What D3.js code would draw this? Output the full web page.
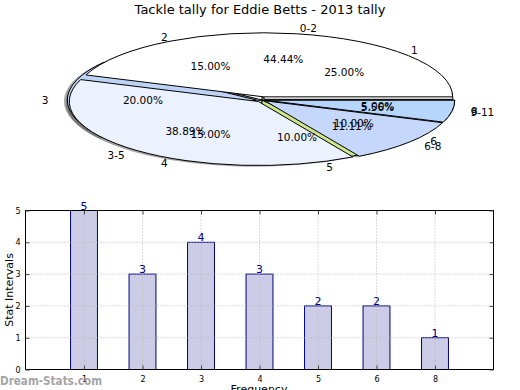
<!DOCTYPE html>
<html><head><meta charset="utf-8">
<script src="https://cdn.jsdelivr.net/npm/d3@7"></script>
<style>
html,body{margin:0;padding:0;background:#fff;}
svg{display:block;font-family:"DejaVu Sans",sans-serif;}
</style></head>
<body>
<svg id="chart" width="520" height="390"></svg>
<script>
// ---- data ----
const title = "Tackle tally for Eddie Betts - 2013 tally";
const innerCats = ["1","2","3","4","5","6","8"];
const innerVals = [5,3,4,3,2,2,1];
const outerCats = ["0-2","3-5","6-8","9-11"];
const outerVals = [8,7,2,1];
const barCats = ["1","2","3","4","5","6","8"];
const barVals = [5,3,4,3,2,2,1];
const yTicks = [0,1,2,3,4,5];
const xLabel = "Frequency";
const yLabel = "Stat Intervals";
const watermark = "Dream-Stats.com";

// ---- styles ----
const innerColors = ["#ffffff","#ffffff","#bed4f6","#ebf1fd","#cfe68a","#c5d7fb","#b7d6fe"];
const outerColors = ["#ffffff","#ebf1fd","#c5d7fb","#b7d6fe"];
const innerExplode = [0.015,0,0.03,0,0,0,0.02];
const outerExplode = [0.05,0.03,0.02,0.02];

const svg = d3.select("#chart");
svg.append("text").attr("x",260).attr("y",14).attr("text-anchor","middle")
  .attr("font-size",13).text(title);

// ---- pie ----
const cx = 262, cy = 100, rx = 189, ry = 64;
const pie = d3.pie().sort(null).value(d => d)
  .startAngle(Math.PI/2).endAngle(Math.PI/2 - 2*Math.PI);
const arc = d3.arc().innerRadius(0).outerRadius(1);

function layout(vals, explode){
  const arcs = pie(vals);
  const sum = d3.sum(vals);
  return arcs.map((a,i) => {
    const m = (a.startAngle + a.endAngle)/2;
    const e = explode[i];
    return {a, i, m, ox: e*rx*Math.sin(m), oy: -e*ry*Math.cos(m),
      pct: (vals[i]/sum*100).toFixed(2) + "%"};
  });
}
const inner = layout(innerVals, innerExplode);
const outer = layout(outerVals, outerExplode);

const gPie = svg.append("g");
const shadowOff = [-0.018*rx, 0.018*ry];
function drawShadow(L){
  gPie.append("g").selectAll("path").data(L).join("path")
    .attr("d", d => arc(d.a))
    .attr("transform", d => `translate(${cx+d.ox+shadowOff[0]},${cy+d.oy+shadowOff[1]}) scale(${rx},${ry})`)
    .attr("fill","#4d4d4d").attr("fill-opacity",0.5);
}
function drawWedges(L, colors){
  gPie.append("g").selectAll("path").data(L).join("path")
    .attr("d", d => arc(d.a))
    .attr("transform", d => `translate(${cx+d.ox},${cy+d.oy}) scale(${rx},${ry})`)
    .attr("fill", d => colors[d.i]).attr("stroke","#000")
    .attr("stroke-width",1).attr("vector-effect","non-scaling-stroke");
}
drawShadow(inner); drawShadow(outer);
drawWedges(inner, innerColors);
drawWedges(outer, outerColors);

function drawTexts(L, cats){
  const g = gPie.append("g").attr("font-size",10.5);
  g.selectAll("text.pct").data(L).join("text").attr("class","pct")
    .attr("x", d => cx + d.ox + 0.6*rx*Math.sin(d.m))
    .attr("y", d => cy + d.oy - 0.6*ry*Math.cos(d.m))
    .attr("text-anchor","middle").attr("dominant-baseline","central")
    .text(d => d.pct);
  g.selectAll("text.lab").data(L).join("text").attr("class","lab")
    .attr("x", d => cx + d.ox + 1.1*rx*Math.sin(d.m))
    .attr("y", d => cy + d.oy - 1.1*ry*Math.cos(d.m))
    .attr("text-anchor", d => Math.sin(d.m) > 0 ? "start" : "end")
    .attr("dominant-baseline","central")
    .text(d => cats[d.i]);
}
drawTexts(inner, innerCats);
drawTexts(outer, outerCats);

// ---- bar chart ----
const L0 = 25.5, R0 = 493.5, T0 = 210.5, B0 = 369.5;
const x = d3.scaleLinear().domain([-1, barCats.length]).range([L0, R0]);
const y = d3.scaleLinear().domain([0, 5]).range([B0, T0]);
const bw = x(0.23) - x(-0.23);
const gb = svg.append("g");

// bars
gb.append("g").selectAll("rect").data(barVals).join("rect")
  .attr("x",(d,i)=>x(i)-bw/2).attr("width",bw)
  .attr("y",d=>y(d)).attr("height",d=>B0-y(d))
  .attr("fill","#ccccE6").attr("stroke","#000080").attr("stroke-width",1);
// grid
gb.append("g").selectAll("line").data(barCats).join("line")
  .attr("x1",(d,i)=>x(i)).attr("x2",(d,i)=>x(i)).attr("y1",T0).attr("y2",B0)
  .attr("stroke","#b8b8b8").attr("stroke-dasharray","1,2");
gb.append("g").selectAll("line").data(yTicks.filter(t => t>0 && t<5)).join("line")
  .attr("x1",L0).attr("x2",R0).attr("y1",d=>y(d)).attr("y2",d=>y(d))
  .attr("stroke","#b8b8b8").attr("stroke-dasharray","1,2");

// value labels
gb.append("g").selectAll("text").data(barVals).join("text")
  .attr("x",(d,i)=>x(i)).attr("y",d=>y(d)-1)
  .attr("text-anchor","middle").attr("font-size",11).attr("fill","#000080")
  .text(d=>d);

// frame
gb.append("rect").attr("x",L0).attr("y",T0).attr("width",R0-L0).attr("height",B0-T0)
  .attr("fill","none").attr("stroke","#000").attr("stroke-width",1);

// axes
const yAxis = d3.axisLeft(y).tickValues(yTicks).tickFormat(d3.format("d")).tickSize(-4).tickPadding(5);
const gy = gb.append("g").attr("transform",`translate(${L0},0)`).call(yAxis);
const yAxisR = d3.axisRight(y).tickValues(yTicks).tickSize(-4).tickFormat("");
const gyr = gb.append("g").attr("transform",`translate(${R0},0)`).call(yAxisR);
const xAxis = d3.axisBottom(x).tickValues(d3.range(barCats.length)).tickFormat(i=>barCats[i]).tickSize(-4).tickPadding(7);
const gx = gb.append("g").attr("transform",`translate(0,${B0})`).call(xAxis);
const xAxisT = d3.axisTop(x).tickValues(d3.range(barCats.length)).tickFormat("").tickSize(-4);
const gxt = gb.append("g").attr("transform",`translate(0,${T0})`).call(xAxisT);
[gy,gyr,gx,gxt].forEach(g=>{
  g.select(".domain").remove();
  g.selectAll("text").attr("font-size",8).attr("fill","#000").attr("font-family","DejaVu Sans");
  g.selectAll("line").attr("stroke","#444");
});

svg.append("text").attr("transform","translate(13,290) rotate(-90)")
  .attr("text-anchor","middle").attr("font-size",11).text(yLabel);
svg.append("text").attr("x",259).attr("y",393).attr("text-anchor","middle")
  .attr("font-size",11).text(xLabel);
svg.append("text").attr("x",0).attr("y",385).attr("font-size",13)
  .attr("font-family","DejaVu Sans, sans-serif").attr("font-weight","bold")
  .attr("textLength",102).attr("lengthAdjust","spacingAndGlyphs")
  .attr("fill","#8c8c8c").attr("fill-opacity",0.8).text(watermark);
</script>
</body></html>
